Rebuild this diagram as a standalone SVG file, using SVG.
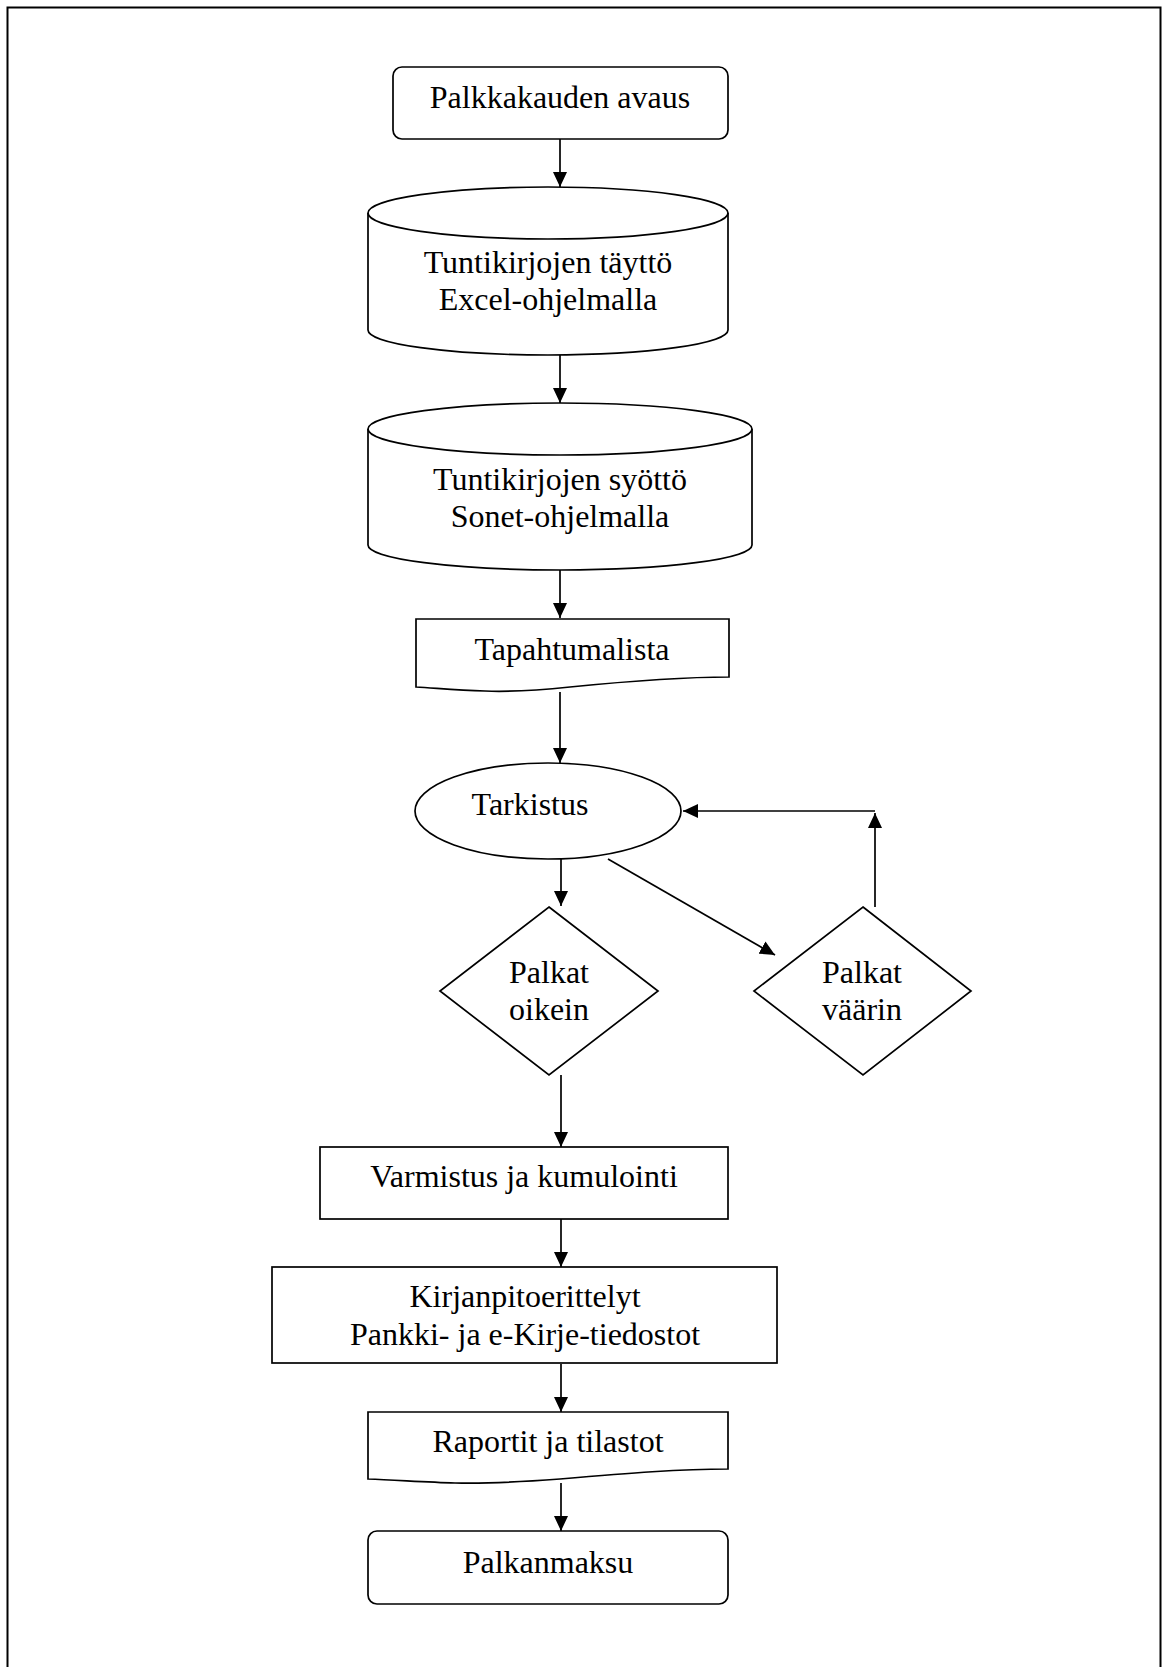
<svg xmlns="http://www.w3.org/2000/svg" width="1168" height="1667" viewBox="0 0 1168 1667">
<style>
  .shape { fill: #ffffff; stroke: #000000; stroke-width: 1.7; }
  .conn { fill: none; stroke: #000000; stroke-width: 1.7; }
  text { font-family: "Liberation Serif", "Times New Roman", serif; font-size: 32px; fill: #000000; text-anchor: middle; }
</style>
<defs>
  <marker id="arrow" markerUnits="userSpaceOnUse" markerWidth="15" markerHeight="14" refX="15" refY="7" orient="auto">
    <path d="M0,0 L15,7 L0,14 Z" fill="#000000"/>
  </marker>
</defs>
<rect width="1168" height="1667" fill="#ffffff"/>
<rect x="7.5" y="7.5" width="1153" height="1720" fill="none" stroke="#000000" stroke-width="2"/>

<g id="connectors">
  <path class="conn" d="M560,139 L560,187" marker-end="url(#arrow)"/>
  <path class="conn" d="M560,355 L560,403" marker-end="url(#arrow)"/>
  <path class="conn" d="M560,570 L560,618" marker-end="url(#arrow)"/>
  <path class="conn" d="M560,692 L560,763" marker-end="url(#arrow)"/>
  <path class="conn" d="M561,859 L561,906" marker-end="url(#arrow)"/>
  <path class="conn" d="M608,859 L775,955" marker-end="url(#arrow)"/>
  <path class="conn" d="M875,907 L875,813" marker-end="url(#arrow)"/>
  <path class="conn" d="M875,811 L683,811" marker-end="url(#arrow)"/>
  <path class="conn" d="M561,1075 L561,1147" marker-end="url(#arrow)"/>
  <path class="conn" d="M561,1219 L561,1267" marker-end="url(#arrow)"/>
  <path class="conn" d="M561,1364 L561,1412" marker-end="url(#arrow)"/>
  <path class="conn" d="M561,1483 L561,1531" marker-end="url(#arrow)"/>
</g>

<g id="n1">
  <rect class="shape" x="393" y="67" width="335" height="72" rx="9"/>
  <text x="560" y="108">Palkkakauden avaus</text>
</g>

<g id="n2">
  <path class="shape" d="M368,213 A180,26 0 0 1 728,213 L728,330 A180,25 0 0 1 368,330 Z"/>
  <path class="conn" d="M368,213 A180,26 0 0 0 728,213"/>
  <text x="548" y="273">Tuntikirjojen täyttö</text>
  <text x="548" y="310">Excel-ohjelmalla</text>
</g>

<g id="n3">
  <path class="shape" d="M368,429 A192,26 0 0 1 752,429 L752,545 A192,25 0 0 1 368,545 Z"/>
  <path class="conn" d="M368,429 A192,26 0 0 0 752,429"/>
  <text x="560" y="490">Tuntikirjojen syöttö</text>
  <text x="560" y="527">Sonet-ohjelmalla</text>
</g>

<g id="n4">
  <path class="shape" d="M416,619 L729,619 L729,677 C680,677 630,681 570,687 C530,691 505,692 485,691 C455,690 435,688 416,687 Z"/>
  <text x="572" y="660">Tapahtumalista</text>
</g>

<g id="n5">
  <ellipse class="shape" cx="548" cy="811" rx="133" ry="48"/>
  <text x="530" y="815">Tarkistus</text>
</g>

<g id="n6">
  <path class="shape" d="M549,907 L658,991 L549,1075 L440,991 Z"/>
  <text x="549" y="983">Palkat</text>
  <text x="549" y="1020">oikein</text>
</g>

<g id="n7">
  <path class="shape" d="M863,907 L971,991 L863,1075 L754,991 Z"/>
  <text x="862" y="983">Palkat</text>
  <text x="862" y="1020">väärin</text>
</g>

<g id="n8">
  <rect class="shape" x="320" y="1147" width="408" height="72"/>
  <text x="524" y="1187">Varmistus ja kumulointi</text>
</g>

<g id="n9">
  <rect class="shape" x="272" y="1267" width="505" height="96"/>
  <text x="525" y="1307">Kirjanpitoerittelyt</text>
  <text x="525" y="1345">Pankki- ja e-Kirje-tiedostot</text>
</g>

<g id="n10">
  <path class="shape" d="M368,1412 L728,1412 L728,1469 C680,1469 630,1473 560,1479 C520,1482 490,1484 455,1483 C425,1482 395,1480 368,1479 Z"/>
  <text x="548" y="1452">Raportit ja tilastot</text>
</g>

<g id="n11">
  <rect class="shape" x="368" y="1531" width="360" height="73" rx="9"/>
  <text x="548" y="1573">Palkanmaksu</text>
</g>
</svg>
